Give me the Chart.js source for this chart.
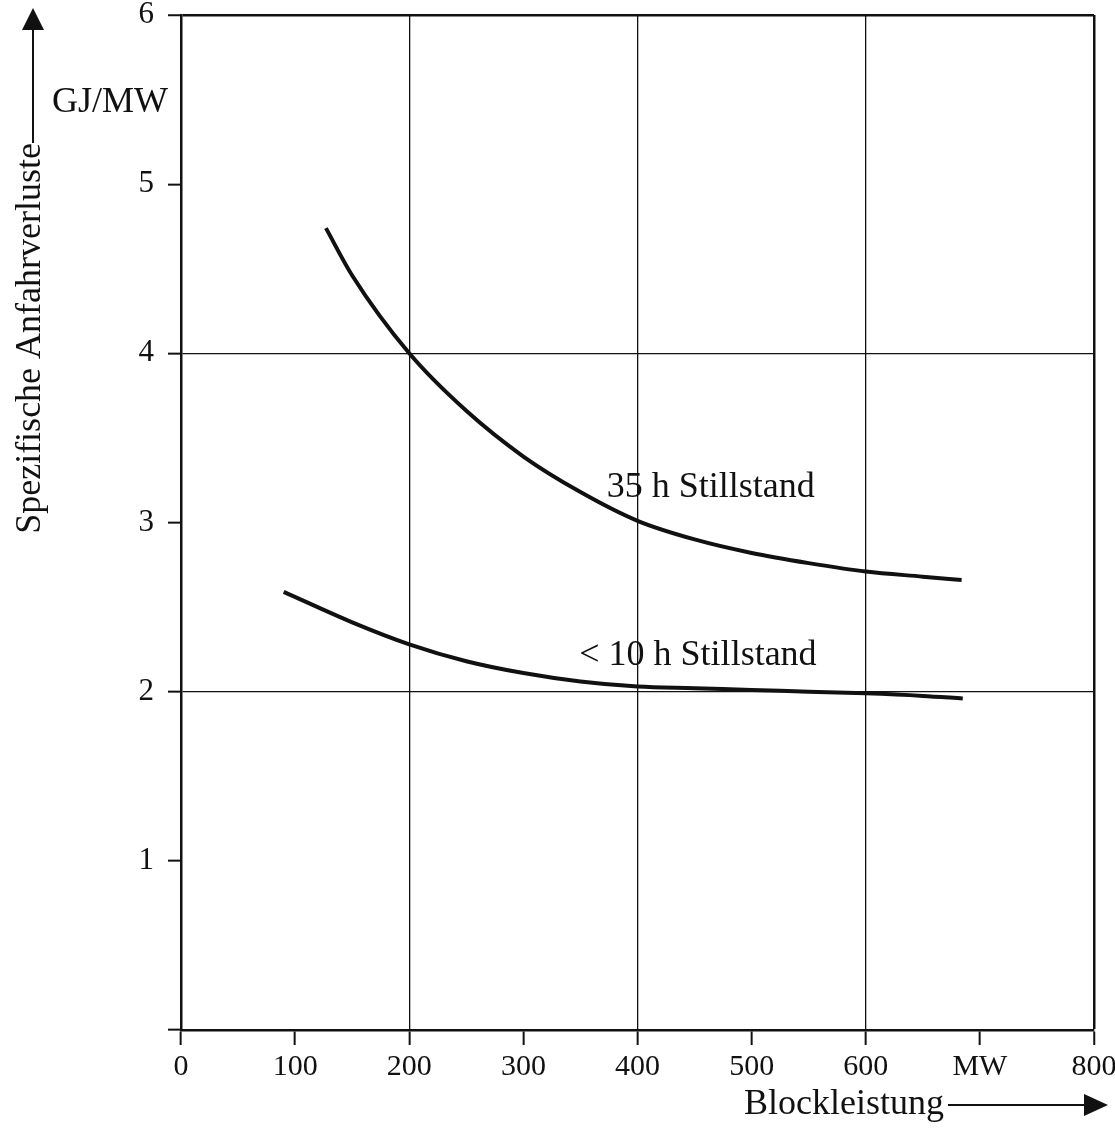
<!DOCTYPE html>
<html>
<head>
<meta charset="utf-8">
<script src="https://cdn.jsdelivr.net/npm/chart.js@4"></script>
<style>
  html, body { margin: 0; padding: 0; background: #fff; }
  #wrap { width: 1115px; height: 1133px; }
</style>
</head>
<body>
<div id="wrap"><canvas id="chartLoss" width="1115" height="1133"></canvas></div>
<script>
// Block size in MW and specific start-up losses in GJ/MW
var blockMW35 = [127, 150, 200, 250, 300, 350, 400, 450, 500, 550, 600, 650, 684];
var loss35h = [4.74, 4.46, 4.0, 3.66, 3.39, 3.18, 3.01, 2.90, 2.82, 2.76, 2.71, 2.68, 2.66];
var blockMW10 = [90, 150, 200, 250, 300, 350, 400, 450, 500, 550, 600, 650, 685];
var loss10h = [2.59, 2.41, 2.28, 2.18, 2.11, 2.06, 2.03, 2.02, 2.01, 2.0, 1.99, 1.975, 1.96];

var seriesNames = ['35 h Stillstand', '< 10 h Stillstand'];
var xTitle = 'Blockleistung';
var yTitle = 'Spezifische Anfahrverluste';
var yUnit = 'GJ/MW';
var xUnit = 'MW';

var FONT = '"Liberation Serif", "DejaVu Serif", serif';
var INK = '#111';

function toPoints(xs, ys) {
    return xs.map(function (x, i) { return { x: x, y: ys[i] }; });
}

// titles, arrows and curve captions
var extras = {
    id: 'extras',
    afterDraw: function (chart) {
        var c = chart.ctx;
        var xs = chart.scales.x, ys = chart.scales.y;
        var area = chart.chartArea;
        c.save();
        c.fillStyle = INK;
        c.strokeStyle = INK;
        c.font = '36px ' + FONT;

        // curve captions
        c.textAlign = 'left';
        c.textBaseline = 'alphabetic';
        c.fillText(seriesNames[0], xs.getPixelForValue(373), ys.getPixelForValue(3.15));
        c.fillText(seriesNames[1], xs.getPixelForValue(349), ys.getPixelForValue(2.16));

        // unit on the y axis
        c.textAlign = 'right';
        c.fillText(yUnit, area.left - 13, 112);

        // y title, rotated, with arrow
        c.save();
        c.translate(40, 143);
        c.rotate(-Math.PI / 2);
        c.textAlign = 'right';
        c.fillText(yTitle, 0, 0);
        c.restore();
        c.lineWidth = 2;
        c.beginPath();
        c.moveTo(33, 143);
        c.lineTo(33, 28);
        c.stroke();
        c.beginPath();
        c.moveTo(33, 8);
        c.lineTo(22, 30);
        c.lineTo(44, 30);
        c.closePath();
        c.fill();

        // x title with arrow
        c.textAlign = 'left';
        c.fillText(xTitle, 744, 1114);
        var w = c.measureText(xTitle).width;
        c.beginPath();
        c.moveTo(744 + w + 4, 1105);
        c.lineTo(1086, 1105);
        c.stroke();
        c.beginPath();
        c.moveTo(1108, 1105);
        c.lineTo(1084, 1094);
        c.lineTo(1084, 1116);
        c.closePath();
        c.fill();
        c.restore();
    }
};

var ctx = document.getElementById('chartLoss').getContext('2d');
var chart = new Chart(ctx, {
    type: 'scatter',
    data: {
        datasets: [{
            label: seriesNames[0],
            data: toPoints(blockMW35, loss35h),
            showLine: true,
            borderColor: INK,
            borderWidth: 4,
            pointRadius: 0,
            cubicInterpolationMode: 'monotone'
        }, {
            label: seriesNames[1],
            data: toPoints(blockMW10, loss10h),
            showLine: true,
            borderColor: INK,
            borderWidth: 4,
            pointRadius: 0,
            cubicInterpolationMode: 'monotone'
        }]
    },
    options: {
        responsive: false,
        animation: false,
        layout: { padding: { top: 15, right: 21, left: 0, bottom: 0 } },
        plugins: {
            legend: { display: false },
            tooltip: { enabled: false }
        },
        scales: {
            x: {
                type: 'linear',
                min: 0,
                max: 800,
                afterFit: function (s) { s.height = 103; s.paddingLeft = 0; s.paddingRight = 0; },
                ticks: {
                    stepSize: 100,
                    color: INK,
                    padding: 4,
                    maxRotation: 0,
                    font: { family: FONT, size: 30 },
                    callback: function (v) { return v === 700 ? xUnit : String(v); }
                },
                grid: {
                    color: function (c) { return c.tick && c.tick.value % 200 === 0 ? INK : 'rgba(0,0,0,0)'; },
                    lineWidth: function (c) { return c.tick && c.tick.value === 800 ? 2.5 : 1.3; },
                    tickColor: INK,
                    tickWidth: 2,
                    tickLength: 15
                },
                border: { display: true, color: INK, width: 2.5 }
            },
            y: {
                min: 0,
                max: 6,
                afterFit: function (s) { s.width = 181; s.paddingTop = 0; s.paddingBottom = 0; },
                ticks: {
                    stepSize: 1,
                    color: INK,
                    padding: 14,
                    font: { family: FONT, size: 31 },
                    callback: function (v) { return v === 0 ? '' : String(v); }
                },
                grid: {
                    color: function (c) { return c.tick && c.tick.value % 2 === 0 ? INK : 'rgba(0,0,0,0)'; },
                    lineWidth: function (c) { return c.tick && c.tick.value === 6 ? 2.5 : 1.3; },
                    tickColor: INK,
                    tickWidth: 2,
                    tickLength: 13
                },
                border: { display: true, color: INK, width: 2.5 }
            }
        }
    },
    plugins: [extras]
});
</script>
</body>
</html>
